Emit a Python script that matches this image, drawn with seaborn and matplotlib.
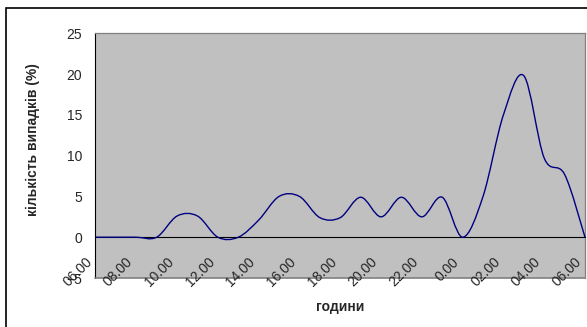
import numpy as np
import matplotlib
matplotlib.use("Agg")
import matplotlib.pyplot as plt
from matplotlib.path import Path
from matplotlib.patches import PathPatch, Rectangle
import seaborn as sns

# hours along the x axis (06.00 -> 06.00 next day)
hours = ["06.00", "07.00", "08.00", "09.00", "10.00", "11.00", "12.00", "13.00",
         "14.00", "15.00", "16.00", "17.00", "18.00", "19.00", "20.00", "21.00",
         "22.00", "23.00", "0.00", "01.00", "02.00", "03.00", "04.00", "05.00",
         "06.00"]
# share of cases (%)
cases = [0, 0, 0, 0, 2.6, 2.6, 0, 0, 2.1, 5.0, 5.0, 2.4, 2.4, 4.9, 2.5, 4.9,
         2.5, 4.9, 0, 5.0, 15.0, 19.8, 9.7, 7.7, 0]
y_ticks = [-5, 0, 5, 10, 15, 20, 25]

sns.set_style("white")
plt.rcParams['font.family'] = ['Liberation Sans', 'DejaVu Sans']
plt.rcParams['font.size'] = 10


def smooth_path(xs, ys):
    # excel-like smoothed line: cubic bezier segments through the points
    pts = np.column_stack([xs, ys]).astype(float)
    n = len(pts)
    verts = [pts[0]]
    codes = [Path.MOVETO]
    for i in range(n - 1):
        p0 = pts[i - 1] if i > 0 else pts[i]
        p1 = pts[i]
        p2 = pts[i + 1]
        p3 = pts[i + 2] if i + 2 < n else pts[i + 1]
        c1 = p1 + (p2 - p0) / 6
        c2 = p2 - (p3 - p1) / 6
        verts += [c1, c2, p2]
        codes += [Path.CURVE4] * 3
    return Path(verts, codes)


fig = plt.figure(figsize=(5.87, 3.27), dpi=100)
ax = fig.add_axes([95.5 / 587, 1 - 278 / 327, 489.5 / 587, 244.7 / 327])
ax.set_facecolor('#C0C0C0')

x = np.arange(len(hours))
line = PathPatch(smooth_path(x, cases), facecolor='none', edgecolor='#000080',
                 linewidth=1.0, zorder=5, clip_on=False)
ax.add_patch(line)

ax.set_xlim(0, len(hours) - 1)
ax.set_ylim(-5, 25)

# y axis
ax.set_yticks(y_ticks)
ax.tick_params(axis='y', direction='inout', length=6, width=0.8, color='black',
               labelsize=10, pad=6.5)

# x axis sits at y = 0, tick every hour
ax.spines['bottom'].set_position(('data', 0))
ax.spines['bottom'].set_color('black')
ax.spines['bottom'].set_linewidth(0.8)
ax.set_xticks(x)
ax.set_xticklabels([])
ax.tick_params(axis='x', direction='inout', length=7.5, width=0.8, color='black')

ax.spines['left'].set_color('black')
ax.spines['left'].set_linewidth(0.8)
for s in ['top', 'right']:
    ax.spines[s].set_color('#808080')
    ax.spines[s].set_linewidth(0.9)
ax.axhline(-5, color='#808080', linewidth=1.2, zorder=6, clip_on=False)

# labels every 2 hours, rotated like the excel chart
px = (len(hours) - 1) / 489.5
for i in range(0, len(hours), 2):
    ax.text(i - 10.5 * px, -17.5 / 8.157, hours[i], rotation=45, ha='right', va='top',
            rotation_mode='anchor', fontsize=10, zorder=7, clip_on=False)

ax.set_ylabel('кількість випадків (%)', fontweight='bold', fontsize=10)
ax.yaxis.set_label_coords(-0.113, 0.564)
fig.text(340.5 / 587, 1 - 307 / 327, 'години', fontweight='bold', fontsize=10,
         ha='center', va='center')

# chart frame
fig.patches.append(Rectangle((6 / 587, -0.1), 1.2, 1.1 - 8 / 327,
                             transform=fig.transFigure, fill=False,
                             edgecolor='black', linewidth=1.2))

fig.savefig('out.png', dpi=100)
